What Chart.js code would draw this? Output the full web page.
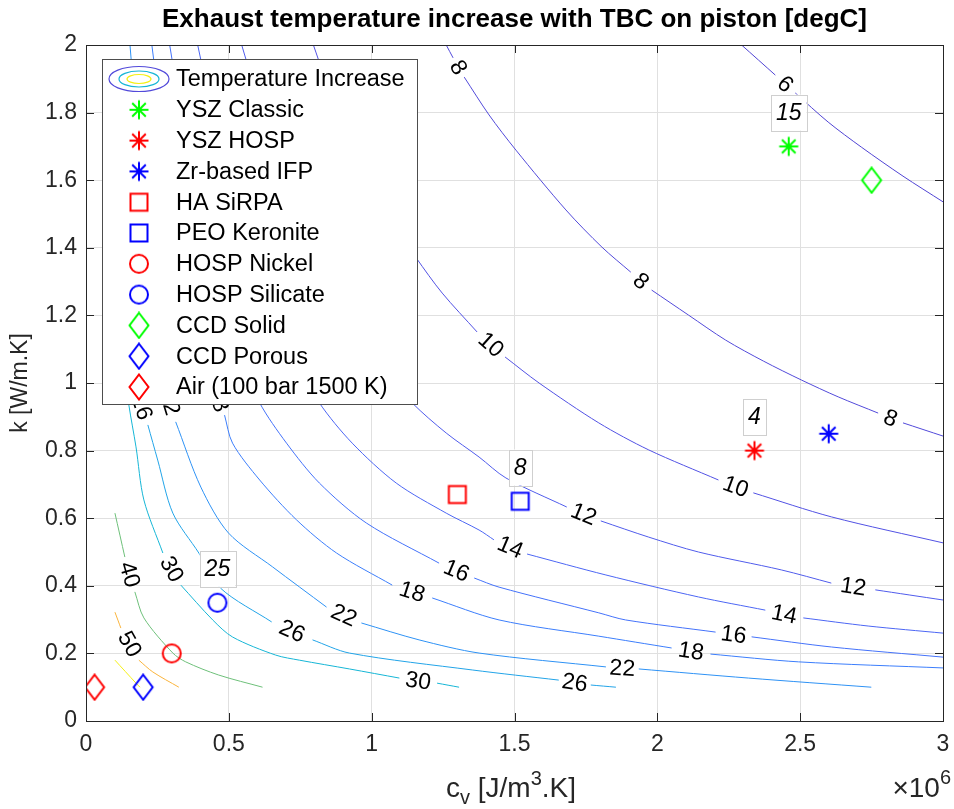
<!DOCTYPE html>
<html>
<head>
<meta charset="utf-8">
<title>Exhaust temperature increase with TBC on piston</title>
<script src="https://cdn.jsdelivr.net/npm/chart.js@4.4.1/dist/chart.umd.min.js"></script>
<style>
  html, body { margin: 0; padding: 0; background: #ffffff; }
  #wrap { position: relative; width: 954px; height: 809px; }
</style>
</head>
<body>
<div id="wrap"><canvas id="chart" width="954" height="809"></canvas></div>
<script>
// Axis ticks (c_v is given in units of 10^6 J/m3.K)
const xTicks = [0, 0.5, 1, 1.5, 2, 2.5, 3];
const xTickLabels = ['0', '0.5', '1', '1.5', '2', '2.5', '3'];
const yTicks = [0, 0.2, 0.4, 0.6, 0.8, 1, 1.2, 1.4, 1.6, 1.8, 2];
const yTickLabels = ['0', '0.2', '0.4', '0.6', '0.8', '1', '1.2', '1.4', '1.6', '1.8', '2'];

// Contour lines: c_v and k per level.
// A null marks the break where MATLAB put the inline label.
const cv6 = [2.295, 2.413, null, 2.483, 2.598, 2.714, 2.860, 3.0];
const k6 = [2.0, 1.911, null, 1.858, 1.772, 1.698, 1.612, 1.536];

const cv8 = [1.261, 1.285, null, 1.324, 1.411, 1.505, 1.680, 1.806, 1.907, null, 1.980, 2.109, 2.239, 2.371, 2.504, 2.633, 2.773, null, 2.860, 3.0];
const k8 = [2.0, 1.962, null, 1.905, 1.793, 1.689, 1.512, 1.402, 1.328, null, 1.275, 1.201, 1.127, 1.065, 1.009, 0.959, 0.911, null, 0.882, 0.843];

const cv10 = [0.796, 0.880, 0.988, 1.079, 1.156, 1.247, 1.369, null, 1.467, 1.586, 1.795, 1.970, 2.214, null, 2.336, 2.609, 3.0];
const k10 = [2.0, 1.799, 1.601, 1.467, 1.370, 1.266, 1.151, null, 1.077, 1.0, 0.882, 0.802, 0.713, null, 0.675, 0.604, 0.527];

const cv12 = [0.545, 0.726, 0.908, 1.027, 1.142, 1.261, 1.376, 1.470, 1.683, null, 1.802, 1.970, 2.144, 2.434, 2.609, null, 2.763, 3.0];
const k12 = [2.0, 1.5, 1.201, 1.053, 0.941, 0.852, 0.781, 0.719, 0.633, null, 0.592, 0.544, 0.5, 0.447, 0.408, null, 0.388, 0.358];

const cv14 = [0.391, 0.520, 0.650, 0.747, 0.817, 0.932, 1.086, 1.261, 1.376, 1.428, null, 1.544, 1.820, 2.144, 2.378, null, 2.511, 2.738, 3.0];
const k14 = [2.0, 1.5, 1.201, 1.053, 0.941, 0.822, 0.704, 0.615, 0.565, 0.536, null, 0.494, 0.432, 0.367, 0.328, null, 0.305, 0.281, 0.260];

const cv16 = [0.293, 0.391, 0.489, 0.555, 0.608, 0.702, 0.817, 0.981, 1.236, null, 1.359, 1.446, 1.795, 1.889, 2.204, null, 2.330, 2.609, 3.0];
const k16 = [2.0, 1.5, 1.201, 1.053, 0.941, 0.822, 0.704, 0.586, 0.467, null, 0.423, 0.396, 0.320, 0.299, 0.263, null, 0.249, 0.219, 0.189];

const cv18 = [0.2305, 0.307, 0.384, 0.440, null, 0.485, 0.513, 0.608, 0.737, 0.877, 1.072, null, 1.212, 1.446, 1.795, 2.050, null, 2.186, 2.494, 3.0];
const k18 = [2.0, 1.5, 1.201, 1.0, null, 0.905, 0.822, 0.713, 0.595, 0.497, 0.402, null, 0.364, 0.299, 0.251, 0.216, null, 0.198, 0.175, 0.157];

const cv22 = [0.154, 0.203, 0.251, 0.272, null, 0.314, 0.402, 0.499, 0.653, 0.842, null, 0.964, 1.166, 1.376, 1.820, null, 1.935, 2.319, 2.749];
const k22 = [2.0, 1.5, 1.201, 1.0, null, 0.885, 0.692, 0.556, 0.456, 0.337, null, 0.290, 0.240, 0.201, 0.160, null, 0.154, 0.127, 0.1];

const cv26 = [0.101, 0.126, 0.157, 0.175, null, 0.2165, 0.251, 0.304, 0.395, 0.471, 0.650, null, 0.793, 0.922, 1.352, 1.655, null, 1.767, 1.855];
const k26 = [1.9, 1.5, 1.201, 0.982, null, 0.876, 0.772, 0.615, 0.497, 0.393, 0.293, null, 0.240, 0.201, 0.151, 0.121, null, 0.1065, 0.1];

const cv30 = [0.101, 0.119, 0.140, 0.150, 0.175, 0.2026, 0.269, null, 0.332, 0.4435, 0.513, 0.664, 0.747, 0.922, 1.097, null, 1.229, 1.306];
const k30 = [1.4, 1.186, 1.009, 0.935, 0.811, 0.654, 0.497, null, 0.402, 0.299, 0.2485, 0.195, 0.180, 0.154, 0.127, null, 0.112, 0.1];

const cv40 = [0.1013, 0.136, null, 0.171, 0.2026, 0.304, 0.349, 0.4645, 0.618];
const k40 = [0.615, 0.485, null, 0.382, 0.305, 0.201, 0.175, 0.136, 0.1];

const cv50 = [0.1013, 0.122, null, 0.185, 0.234, 0.325];
const k50 = [0.322, 0.275, null, 0.180, 0.145, 0.1];

const cv60 = [0.1013, 0.175, 0.189];
const k60 = [0.180, 0.112, 0.1];

const levels = [6, 8, 10, 12, 14, 16, 18, 22, 26, 30, 40, 50, 60];
const levelCv = [cv6, cv8, cv10, cv12, cv14, cv16, cv18, cv22, cv26, cv30, cv40, cv50, cv60];
const levelK = [k6, k8, k10, k12, k14, k16, k18, k22, k26, k30, k40, k50, k60];
const levelColors = [
  'rgb(80,68,212)', 'rgb(82,74,218)', 'rgb(82,82,228)', 'rgb(80,92,236)',
  'rgb(76,102,244)', 'rgb(68,114,250)', 'rgb(60,126,252)', 'rgb(46,146,245)',
  'rgb(34,164,232)', 'rgb(22,182,214)', 'rgb(110,192,122)', 'rgb(250,180,60)',
  'rgb(245,240,20)'
];

// Coating materials
const materials = ['YSZ Classic', 'YSZ HOSP', 'Zr-based IFP', 'HA SiRPA', 'PEO Keronite',
  'HOSP Nickel', 'HOSP Silicate', 'CCD Solid', 'CCD Porous', 'Air (100 bar 1500 K)'];
const materialCv = [2.46, 2.34, 2.6, 1.3, 1.52, 0.3, 0.46, 2.75, 0.2, 0.03];
const materialK = [1.7, 0.8, 0.85, 0.67, 0.65, 0.2, 0.35, 1.6, 0.1, 0.1];
const materialShape = ['asterisk', 'asterisk', 'asterisk', 'square', 'square',
  'circle', 'circle', 'diamond', 'diamond', 'diamond'];
const materialColor = ['#00ff00', '#ff0000', '#0000ff', '#ff0000', '#0000ff',
  '#ff0000', '#0000ff', '#00ff00', '#0000ff', '#ff0000'];

// Boxed notes above some markers
const noteText = ['15', '4', '8', '25'];
const noteCv = [2.46, 2.34, 1.52, 0.46];
const noteK = [1.8, 0.9, 0.75, 0.45];

const FONT = '"Liberation Sans", Arial, Helvetica, sans-serif';
const INK = '#262626';

// MATLAB-like marker drawn on a small canvas, used as pointStyle
function makeMarker(shape, color) {
  const c = document.createElement('canvas');
  c.width = 28;
  c.height = 28;
  const g = c.getContext('2d');
  const m = 14;
  g.strokeStyle = color;
  g.lineWidth = 2;
  g.beginPath();
  if (shape === 'asterisk') {
    const r = 9.5, d = 6.8;
    g.moveTo(m - r, m); g.lineTo(m + r, m);
    g.moveTo(m, m - r); g.lineTo(m, m + r);
    g.moveTo(m - d, m - d); g.lineTo(m + d, m + d);
    g.moveTo(m + d, m - d); g.lineTo(m - d, m + d);
  } else if (shape === 'square') {
    g.rect(m - 8.5, m - 8.5, 17, 17);
  } else if (shape === 'circle') {
    g.arc(m, m, 9, 0, Math.PI * 2);
  } else {
    g.moveTo(m, m - 12.5);
    g.lineTo(m + 9.5, m);
    g.lineTo(m, m + 12.5);
    g.lineTo(m - 9.5, m);
    g.closePath();
  }
  g.stroke();
  return c;
}

const markerImages = materials.map((n, i) => makeMarker(materialShape[i], materialColor[i]));

const datasets = [];
materials.forEach((name, i) => {
  datasets.push({
    label: name,
    data: [{ x: materialCv[i], y: materialK[i] }],
    showLine: false,
    pointStyle: markerImages[i],
    pointRadius: 10,
    order: 0
  });
});
levels.forEach((lev, j) => {
  datasets.push({
    label: 'level ' + lev,
    level: lev,
    data: levelCv[j].map((v, i) => ({ x: v, y: levelK[j][i] })),
    borderColor: levelColors[j],
    borderWidth: 1,
    pointRadius: 0,
    tension: 0.3,
    spanGaps: false,
    order: 1
  });
});

// Inline contour labels, placed in the breaks of each line
function drawContourLabels(chart) {
  const { ctx, scales: { x, y } } = chart;
  ctx.save();
  ctx.font = '23px ' + FONT;
  ctx.fillStyle = '#000';
  ctx.textAlign = 'center';
  ctx.textBaseline = 'middle';
  chart.data.datasets.forEach(ds => {
    if (ds.level === undefined) return;
    const pts = ds.data;
    for (let i = 1; i < pts.length - 1; i++) {
      if (pts[i].y !== null) continue;
      const ax = x.getPixelForValue(pts[i - 1].x), ay = y.getPixelForValue(pts[i - 1].y);
      const bx = x.getPixelForValue(pts[i + 1].x), by = y.getPixelForValue(pts[i + 1].y);
      let ang = Math.atan2(by - ay, bx - ax);
      if (ang > Math.PI / 2) ang -= Math.PI;
      if (ang < -Math.PI / 2) ang += Math.PI;
      ctx.save();
      ctx.translate((ax + bx) / 2, (ay + by) / 2);
      ctx.rotate(ang);
      ctx.fillText(String(ds.level), 0, 1);
      ctx.restore();
    }
  });
  ctx.restore();
}

function drawNotes(chart) {
  const { ctx, scales: { x, y } } = chart;
  ctx.save();
  ctx.font = 'italic 23px ' + FONT;
  ctx.textAlign = 'center';
  ctx.textBaseline = 'middle';
  noteText.forEach((t, i) => {
    const px = x.getPixelForValue(noteCv[i]);
    const py = y.getPixelForValue(noteK[i]);
    const w = ctx.measureText(t).width + 10;
    const h = 36;
    ctx.fillStyle = '#ffffff';
    ctx.fillRect(px - w / 2, py - h / 2, w, h);
    ctx.strokeStyle = '#cfcfcf';
    ctx.lineWidth = 1;
    ctx.strokeRect(Math.round(px - w / 2) + 0.5, Math.round(py - h / 2) + 0.5, Math.round(w), h);
    ctx.fillStyle = '#000';
    ctx.fillText(t, px, py + 1);
  });
  ctx.restore();
}

// Box around the axes with inward ticks on all four sides
function drawFrame(chart) {
  const { ctx, chartArea: a, scales: { x, y } } = chart;
  const tl = 8;
  ctx.save();
  ctx.strokeStyle = INK;
  ctx.lineWidth = 1;
  ctx.beginPath();
  xTicks.forEach(v => {
    const px = Math.round(x.getPixelForValue(v)) + 0.5;
    ctx.moveTo(px, a.bottom); ctx.lineTo(px, a.bottom - tl);
    ctx.moveTo(px, a.top); ctx.lineTo(px, a.top + tl);
  });
  yTicks.forEach(v => {
    const py = Math.round(y.getPixelForValue(v)) + 0.5;
    ctx.moveTo(a.left, py); ctx.lineTo(a.left + tl, py);
    ctx.moveTo(a.right, py); ctx.lineTo(a.right - tl, py);
  });
  ctx.stroke();
  ctx.strokeRect(Math.round(a.left) + 0.5, Math.round(a.top) + 0.5,
    Math.round(a.right - a.left), Math.round(a.bottom - a.top));
  ctx.restore();
}

function drawLegend(chart) {
  const { ctx, chartArea: a } = chart;
  const left = a.left + 16, top = a.top + 14, w = 315, h = 345;
  const rowH = 30.8, firstRow = top + 20, textX = left + 74, iconX = left + 37;
  ctx.save();
  ctx.fillStyle = '#ffffff';
  ctx.fillRect(left, top, w, h);
  ctx.strokeStyle = '#4d4d4d';
  ctx.lineWidth = 1;
  ctx.strokeRect(left + 0.5, top + 0.5, w, h);

  // contour icon: nested ellipses
  const ellipses = [[30, 12.5, levelColors[1]], [20, 8, levelColors[9]], [12, 4.5, levelColors[12]]];
  ellipses.forEach(e => {
    ctx.beginPath();
    ctx.ellipse(iconX, firstRow, e[0], e[1], 0, 0, Math.PI * 2);
    ctx.strokeStyle = e[2];
    ctx.lineWidth = 1.2;
    ctx.stroke();
  });

  ctx.font = '23.5px ' + FONT;
  ctx.fillStyle = '#000';
  ctx.textAlign = 'left';
  ctx.textBaseline = 'middle';
  ctx.fillText('Temperature Increase', textX, firstRow + 1);
  materials.forEach((name, i) => {
    const cy = firstRow + rowH * (i + 1);
    const img = markerImages[i];
    ctx.drawImage(img, iconX - img.width / 2, cy - img.height / 2);
    ctx.fillText(name, textX, cy + 1);
  });
  ctx.restore();
}

// text made of runs with sub/superscripts
function drawRuns(ctx, runs, x, baseline, align) {
  let total = 0;
  runs.forEach(r => { ctx.font = r.font; r.w = ctx.measureText(r.text).width; total += r.w; });
  let cx = align === 'center' ? x - total / 2 : (align === 'right' ? x - total : x);
  ctx.textAlign = 'left';
  ctx.textBaseline = 'alphabetic';
  runs.forEach(r => {
    ctx.font = r.font;
    ctx.fillText(r.text, cx, baseline + (r.dy || 0));
    cx += r.w;
  });
}

const decorPlugin = {
  id: 'matlabDecor',
  afterDatasetsDraw(chart) {
    drawContourLabels(chart);
    drawNotes(chart);
    drawFrame(chart);
    drawLegend(chart);
  },
  afterDraw(chart) {
    const { ctx, chartArea: a } = chart;
    const big = '28px ' + FONT, small = '20px ' + FONT;
    ctx.save();
    ctx.fillStyle = '#000';
    ctx.font = 'bold 26px ' + FONT;
    ctx.textAlign = 'center';
    ctx.textBaseline = 'middle';
    ctx.fillText('Exhaust temperature increase with TBC on piston [degC]', (a.left + a.right) / 2, 20);

    ctx.fillStyle = INK;
    drawRuns(ctx, [
      { text: 'c', font: big },
      { text: 'v', font: small, dy: 7 },
      { text: ' [J/m', font: big },
      { text: '3', font: small, dy: -12 },
      { text: '.K]', font: big }
    ], 511, 797, 'center');

    drawRuns(ctx, [
      { text: '\u00d710', font: big },
      { text: '6', font: small, dy: -13 }
    ], 951, 797, 'right');

    ctx.save();
    ctx.translate(21, (a.top + a.bottom) / 2);
    ctx.rotate(-Math.PI / 2);
    ctx.font = '23px ' + FONT;
    ctx.textAlign = 'center';
    ctx.textBaseline = 'middle';
    ctx.fillText('k [W/m.K]', 0, 0);
    ctx.restore();
    ctx.restore();
  }
};

const tickFont = { family: FONT, size: 23 };

new Chart(document.getElementById('chart'), {
  type: 'line',
  data: { datasets: datasets },
  options: {
    responsive: false,
    animation: false,
    layout: { padding: { top: 45, right: 0, left: 0, bottom: 0 } },
    plugins: {
      legend: { display: false },
      tooltip: { enabled: false },
      title: { display: false }
    },
    scales: {
      x: {
        type: 'linear',
        min: 0,
        max: 3,
        afterBuildTicks: s => { s.ticks = xTicks.map(v => ({ value: v })); },
        afterFit: s => {
          s.height = 88;
          s.paddingLeft = 0;
          s.paddingRight = 9;
        },
        ticks: {
          callback: (v, i) => xTickLabels[i],
          font: tickFont,
          color: INK,
          padding: 10,
          maxRotation: 0,
          autoSkip: false
        },
        grid: { color: '#e0e0e0', lineWidth: 1, drawTicks: false },
        border: { display: true, color: INK }
      },
      y: {
        type: 'linear',
        min: 0,
        max: 2,
        afterBuildTicks: s => { s.ticks = yTicks.map(v => ({ value: v })); },
        afterFit: s => { s.width = 86; },
        ticks: {
          callback: (v, i) => yTickLabels[i],
          font: tickFont,
          color: INK,
          padding: 9,
          autoSkip: false
        },
        grid: { color: '#e0e0e0', lineWidth: 1, drawTicks: false },
        border: { display: true, color: INK }
      }
    }
  },
  plugins: [decorPlugin]
});
</script>
</body>
</html>
